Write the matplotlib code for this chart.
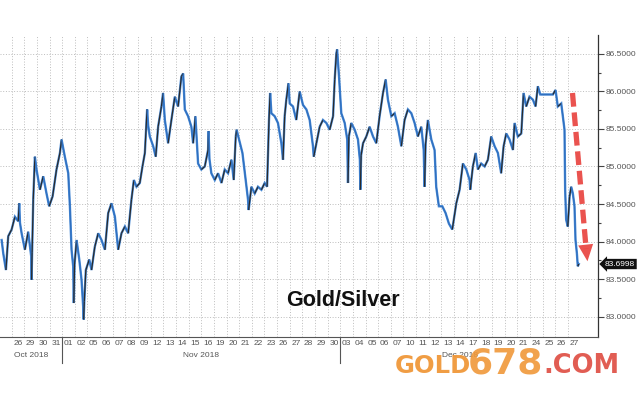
import matplotlib
matplotlib.use('Agg')
import matplotlib.pyplot as plt
import matplotlib.transforms as mtransforms
from matplotlib.collections import LineCollection
import numpy as np

# ---------------- data ----------------
day_labels = ['26', '29', '30', '31', '01', '02', '05', '06', '07', '08', '09', '12',
              '13', '14', '15', '16', '19', '20', '21', '22', '23', '26', '27', '28',
              '29', '30', '03', '04', '05', '06', '07', '10', '11', '12', '13', '14',
              '17', '18', '19', '20', '21', '24', '25', '26', '27']
month_labels = ['Oct 2018', 'Nov 2018', 'Dec 2018']
month_spans = [(-0.92, 4), (4, 26), (26, 45)]
month_breaks = [4, 26]

# time in trading days (day i spans [i, i+1)), value = gold/silver ratio
ratio_t = [-0.79, -0.66, -0.45, -0.27, 0.00, 0.26, 0.52, 0.60, 0.66, 0.79, 1.05, 1.31,
           1.55, 1.58, 1.62, 1.71, 1.84, 1.97, 2.24, 2.50, 2.76, 2.97, 3.24, 3.55,
           3.82, 3.95, 4.21, 4.48, 4.61, 4.74, 4.87, 4.92, 4.98, 5.14, 5.35, 5.53,
           5.66, 5.70, 5.75, 5.87, 6.14, 6.32, 6.58, 6.85, 7.11, 7.38, 7.64, 7.90,
           8.17, 8.43, 8.69, 8.96, 9.22, 9.48, 9.67, 9.88, 10.14, 10.35, 10.54, 10.67,
           10.72, 10.80, 10.93, 11.20, 11.40,
           11.59, 11.85, 11.98, 12.12, 12.38, 12.64, 12.91, 13.17, 13.43, 13.57, 13.70,
           13.96, 14.22, 14.36, 14.54, 14.75, 15.01, 15.28, 15.54, 15.58, 15.65, 15.80,
           16.07, 16.33, 16.60, 16.86, 17.12, 17.39, 17.57, 17.73, 17.80, 17.99, 18.26,
           18.52, 18.70, 18.75, 18.97, 19.23, 19.49, 19.76, 20.02, 20.21, 20.36, 20.45,
           20.55, 20.81, 21.07, 21.34, 21.47, 21.60, 21.73, 21.90, 22.00, 22.26, 22.52,
           22.79, 23.05,
           23.32, 23.58, 23.84, 23.90, 24.11, 24.37, 24.63, 24.90, 25.16, 25.43, 25.56,
           25.69, 25.75, 25.90, 26.08, 26.35, 26.55, 26.61, 26.68, 26.87, 27.14, 27.40,
           27.55, 27.59, 27.65, 27.80, 28.06, 28.32, 28.59, 28.85, 29.11, 29.38, 29.59,
           29.77, 30.04, 30.30, 30.56, 30.83, 31.09, 31.35, 31.62, 31.88, 32.14, 32.41,
           32.60, 32.67, 32.75, 32.93, 33.20, 33.46, 33.59, 33.80, 34.07, 34.33, 34.59,
           34.86,
           35.18, 35.44, 35.70, 35.97, 36.23, 36.28, 36.49, 36.71, 36.89, 37.15, 37.42,
           37.68, 37.94, 38.21, 38.47, 38.73, 38.92, 39.13, 39.39, 39.66, 39.79, 40.05,
           40.32, 40.50, 40.71, 40.97, 41.24, 41.45, 41.63, 41.82, 42.82, 43.03, 43.21,
           43.48, 43.61, 43.74, 43.79, 43.87, 44.00, 44.14, 44.27, 44.40, 44.53, 44.61,
           44.72, 44.79, 44.87]
ratio_v = [84.02, 83.84, 83.62, 84.07, 84.16, 84.33, 84.27, 84.51, 84.25, 84.11, 83.89, 84.13,
           83.80, 83.49, 83.85, 84.56, 85.13, 84.96, 84.69, 84.87, 84.64, 84.47, 84.60, 84.96,
           85.18, 85.36, 85.13, 84.91, 84.47, 83.89, 83.67, 83.18, 83.70, 84.02, 83.76, 83.49,
           83.13, 82.96, 83.20, 83.62, 83.76, 83.62, 83.93, 84.11, 84.02, 83.89, 84.38, 84.51,
           84.33, 83.89, 84.11, 84.20, 84.11, 84.56, 84.82, 84.73, 84.78, 85.00, 85.18, 85.62,
           85.76, 85.55, 85.40, 85.27, 85.13,
           85.53, 85.80, 85.98, 85.62, 85.31, 85.62, 85.93, 85.80, 86.20, 86.24, 85.76,
           85.67, 85.53, 85.31, 85.67, 85.04, 84.96, 85.00, 85.22, 85.47, 85.10, 84.91,
           84.82, 84.91, 84.78, 84.96, 84.91, 85.09, 84.82, 85.40, 85.49, 85.36, 85.18,
           84.82, 84.56, 84.42, 84.73, 84.64, 84.73, 84.69, 84.78, 84.73, 85.62, 85.98,
           85.71, 85.67, 85.58, 85.31, 85.09, 85.67, 85.89, 86.11, 85.84, 85.80, 85.62,
           86.00, 85.82,
           85.76, 85.62, 85.27, 85.13, 85.31, 85.53, 85.62, 85.58, 85.49, 85.67, 86.16,
           86.51, 86.56, 86.20, 85.71, 85.58, 85.36, 84.78, 85.40, 85.58, 85.49, 85.36,
           85.09, 84.69, 85.15, 85.31, 85.40, 85.53, 85.40, 85.31, 85.67, 85.98, 86.16,
           85.89, 85.67, 85.71, 85.53, 85.27, 85.62, 85.76, 85.71, 85.58, 85.40, 85.53,
           85.22, 84.73, 85.30, 85.62, 85.36, 85.22, 84.73, 84.47, 84.47, 84.38, 84.24,
           84.16,
           84.51, 84.69, 85.04, 84.96, 84.82, 84.69, 85.00, 85.18, 84.96, 85.04, 85.00,
           85.09, 85.40, 85.27, 85.18, 84.91, 85.27, 85.44, 85.36, 85.22, 85.58, 85.40,
           85.44, 85.98, 85.80, 85.93, 85.89, 85.80, 86.07, 85.96, 85.96, 86.02, 85.80,
           85.84, 85.67, 85.49, 84.69, 84.29, 84.20, 84.60, 84.73, 84.64, 84.47, 84.02,
           83.84, 83.67, 83.70]
last_price = 83.6998
y_ticks = [83.0, 83.5, 84.0, 84.5, 85.0, 85.5, 86.0, 86.5]
y_minor = [83.25, 83.75, 84.25, 84.75, 85.25, 85.75, 86.25]
arrow_start = (44.37, 85.98)
arrow_base = (45.45, 83.90)
arrow_tip = (45.58, 83.70)
title = 'Gold/Silver'

# ---------------- figure ----------------
fig = plt.figure(figsize=(6.4, 4.0), dpi=100)
ax = fig.add_axes([0.0, 0.1575, 0.934, 0.755])
ax.set_xlim(-0.92, 46.37)
ax.set_ylim(82.727, 86.753)

# grid
grid_kw = dict(color='#bdbdbd', lw=0.7, ls=(0, (1.0, 1.8)))
ax.set_xticks(range(0, 45))
ax.set_xticklabels([])
ax.set_xticks([i + 0.5 for i in range(len(day_labels))], minor=True)
ax.set_xticklabels(day_labels, minor=True)
ax.tick_params(axis='x', which='both', length=0)
ax.tick_params(axis='x', which='minor', pad=2, labelsize=6, labelcolor='#555555')
ax.xaxis.grid(True, which='major', **grid_kw)

ax.yaxis.tick_right()
ax.set_yticks(y_ticks)
ax.set_yticklabels([f'{v:.4f}' for v in y_ticks])
ax.set_yticks(y_minor, minor=True)
ax.tick_params(axis='y', which='major', length=4, width=0.8, color='#444444',
               labelsize=6, labelcolor='#555555', pad=1.5)
ax.tick_params(axis='y', which='minor', length=2.5, width=0.8, color='#444444')
ax.yaxis.grid(True, which='major', **grid_kw)
ax.set_axisbelow(True)

for s in ['top', 'left']:
    ax.spines[s].set_visible(False)
ax.spines['right'].set_color('#333333')
ax.spines['bottom'].set_color('#555555')
ax.spines['right'].set_linewidth(0.9)
ax.spines['bottom'].set_linewidth(0.8)

for lab in ax.get_xticklabels(minor=True) + ax.get_yticklabels():
    lab.set_family('Liberation Sans')

# series: blue base with dark rising segments
t = np.array(ratio_t)
v = np.array(ratio_v)
ax.plot(t, v, color='#4a8bd6', lw=1.7, solid_joinstyle='miter', zorder=3)
pts = np.column_stack([t, v]).reshape(-1, 1, 2)
segs = np.concatenate([pts[:-1], pts[1:]], axis=1)
up = np.diff(v) > 0
cols = ['#2a2a2a' if u else '#2f6fbf' for u in up]
lc = LineCollection(segs, colors=cols, linewidths=0.9, zorder=4)
ax.add_collection(lc)

# month labels and separators
trans = mtransforms.blended_transform_factory(ax.transData, ax.transAxes)
for lab, (a, b) in zip(month_labels, month_spans):
    ax.text((a + b) / 2, -0.06, lab, transform=trans, ha='center', va='center',
            fontsize=6, color='#555555', family='Liberation Sans')
for mb in month_breaks:
    ax.plot([mb, mb], [0, -0.085], transform=trans, color='#555555', lw=0.8,
            clip_on=False)

# last price tag
ytrans = mtransforms.blended_transform_factory(ax.transAxes, ax.transData)
ax.text(1.012, last_price, f'{last_price:.4f}', transform=ytrans, ha='left', va='center',
        fontsize=6, color='white', family='Liberation Sans', zorder=10, clip_on=False,
        bbox=dict(boxstyle='larrow,pad=0.2', fc='#111111', ec='none'))

# red dashed arrow
ax.plot([arrow_start[0], arrow_base[0]], [arrow_start[1], arrow_base[1]],
        color='#e8403c', lw=3.8, ls=(0, (2.6, 1.1)), alpha=0.9, zorder=6,
        solid_capstyle='butt')
ax.annotate('', xy=arrow_tip, xytext=arrow_base,
            arrowprops=dict(arrowstyle='-|>,head_length=1.0,head_width=0.45',
                            mutation_scale=12, color='#e8403c', lw=0, alpha=0.9),
            zorder=6)

# title inside chart
fig.text(343 / 640, 1 - 301 / 400, title, ha='center', va='center', fontsize=15.5,
         fontweight='bold', color='#111111', family='Liberation Sans')

# watermark
base_y = 1 - 373 / 400
fig.text(395 / 640, base_y, 'GOLD', ha='left', va='baseline', fontsize=17.5,
         fontweight='bold', color='#f0983a', family='DejaVu Sans', alpha=0.95)
fig.text(468 / 640, base_y, '678', ha='left', va='baseline', fontsize=26,
         fontweight='bold', color='#f0983a', family='DejaVu Sans', alpha=0.9)
fig.text(543 / 640, base_y, '.COM', ha='left', va='baseline', fontsize=18.5,
         fontweight='bold', color='#e0544a', family='DejaVu Sans', alpha=0.95)

fig.savefig('out.png', dpi=100)
